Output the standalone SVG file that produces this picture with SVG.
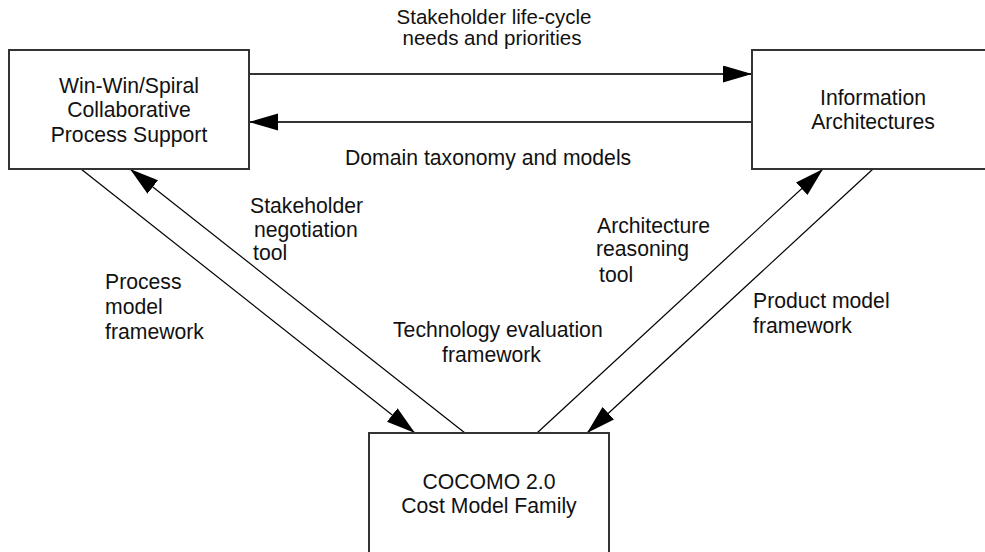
<svg xmlns="http://www.w3.org/2000/svg" width="985" height="552" viewBox="0 0 985 552">
<style>
.box{fill:#fff;stroke:#333;stroke-width:2}
.t{font-family:"Liberation Sans",Arial,sans-serif;font-size:21.2px;fill:#111}
.s{font-size:20.5px}
.c{text-anchor:middle}
.h{stroke:#333;stroke-width:2;fill:none}
.d{stroke:#000;stroke-width:1.2;fill:none}
</style>
<defs>
<marker id="ah" markerUnits="userSpaceOnUse" markerWidth="32" markerHeight="18" refX="29" refY="8.5" orient="auto">
<path d="M0,0 L29,8.5 L0,17 z" fill="#000"/>
</marker>
</defs>
<rect width="985" height="552" fill="#fff"/>
<g id="connectors">
<line class="h" x1="249" y1="74" x2="752" y2="74" marker-end="url(#ah)"/>
<line class="h" x1="752" y1="122" x2="249" y2="122" marker-end="url(#ah)"/>
<line class="d" x1="81" y1="169" x2="415" y2="433" marker-end="url(#ah)"/>
<line class="d" x1="465" y1="433" x2="130" y2="169" marker-end="url(#ah)"/>
<line class="d" x1="537" y1="433" x2="823" y2="169" marker-end="url(#ah)"/>
<line class="d" x1="873" y1="169" x2="587" y2="433" marker-end="url(#ah)"/>
</g>
<g id="winwin">
<rect class="box" x="9" y="50" width="240" height="119"/>
<text class="t c" x="129" y="93">Win-Win/Spiral</text>
<text class="t c" x="129" y="117">Collaborative</text>
<text class="t c" x="129" y="142">Process Support</text>
</g>
<g id="info">
<rect class="box" x="752" y="50" width="260" height="119"/>
<text class="t c" x="873" y="105">Information</text>
<text class="t c" x="873" y="129">Architectures</text>
</g>
<g id="cocomo">
<rect class="box" x="369" y="433" width="240" height="140"/>
<text class="t c" x="489" y="489">COCOMO 2.0</text>
<text class="t c" x="489" y="513">Cost Model Family</text>
</g>
<g id="labels">
<text class="t s c" x="494" y="24">Stakeholder life-cycle</text>
<text class="t s c" x="492" y="45">needs and priorities</text>
<text class="t" x="345" y="165">Domain taxonomy and models</text>
<text class="t" x="250" y="213">Stakeholder</text>
<text class="t" x="254" y="237">negotiation</text>
<text class="t" x="253" y="260">tool</text>
<text class="t" x="105" y="289">Process</text>
<text class="t" x="105" y="314">model</text>
<text class="t" x="105" y="339">framework</text>
<text class="t" x="393" y="337">Technology evaluation</text>
<text class="t" x="442" y="362">framework</text>
<text class="t" x="597" y="233">Architecture</text>
<text class="t" x="596" y="256">reasoning</text>
<text class="t" x="599" y="282">tool</text>
<text class="t" x="753" y="308">Product model</text>
<text class="t" x="753" y="333">framework</text>
</g>
</svg>
